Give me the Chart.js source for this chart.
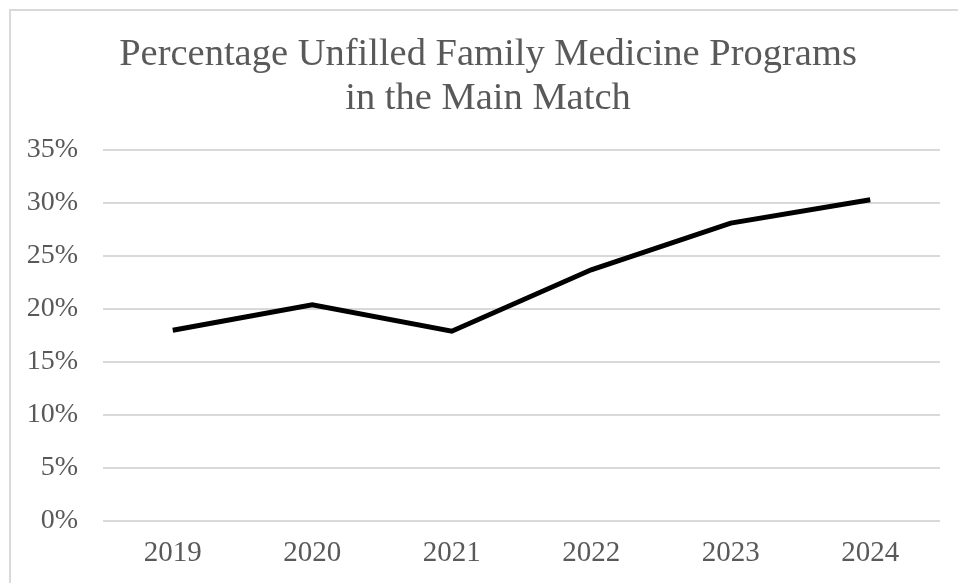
<!DOCTYPE html>
<html>
<head>
<meta charset="utf-8">
<script src="https://cdn.jsdelivr.net/npm/chart.js@4.4.1/dist/chart.umd.min.js"></script>
<style>
	html, body { margin: 0; padding: 0; width: 958px; height: 583px; overflow: hidden; background: #fff; }
	#frame { position: absolute; left: 9px; top: 9px; width: 1000px; height: 1000px; border: 2px solid #d9d9d9; box-sizing: border-box; }
	#wrap { position: absolute; left: 9px; top: 9px; width: 949px; height: 574px; }
</style>
</head>
<body>
<div id="frame"></div>
<div id="wrap"><canvas id="chart"></canvas></div>
<script>
// data
var years = ['2019', '2020', '2021', '2022', '2023', '2024'];
var unfilledPct = [18.0, 20.4, 17.9, 23.7, 28.1, 30.3];
var titleLines = ['Percentage Unfilled Family Medicine Programs', 'in the Main Match'];

var serif = "'Liberation Serif', 'DejaVu Serif', serif";
var grey = '#595959';

var ctx = document.getElementById('chart').getContext('2d');
var chart = new Chart(ctx, {
	type: 'line',
	data: {
		labels: years,
		datasets: [{
			data: unfilledPct,
			borderColor: '#000',
			borderWidth: 5,
			pointRadius: 0,
			tension: 0,
			fill: false
		}]
	},
	options: {
		responsive: true,
		maintainAspectRatio: false,
		animation: false,
		layout: { padding: { left: 27, right: 18, top: 24, bottom: 0 } },
		plugins: {
			legend: { display: false },
			tooltip: { enabled: false },
			title: {
				display: true,
				text: titleLines,
				color: grey,
				font: { family: serif, size: 38.5, weight: 'normal', lineHeight: 1.143 },
				padding: { top: 0, bottom: 29 }
			}
		},
		scales: {
			x: {
				offset: true,
				grid: { display: false, drawTicks: false },
				border: { display: false },
				ticks: { color: grey, font: { family: serif, size: 29 }, padding: 15 },
				afterFit: function (s) { s.height = 62; }
			},
			y: {
				min: 0,
				max: 35,
				ticks: {
					stepSize: 5,
					color: grey,
					font: { family: serif, size: 28 },
					padding: 25,
					callback: function (v) { return v + '%'; }
				},
				grid: { color: '#d9d9d9', lineWidth: 2, drawTicks: false },
				border: { display: false },
				afterFit: function (s) {
					s.width = 67;
					// labels hang a bit into the left padding, don't clip them
					s._computeLabelArea = function () { return null; };
				}
			}
		}
	}
});
</script>
</body>
</html>
